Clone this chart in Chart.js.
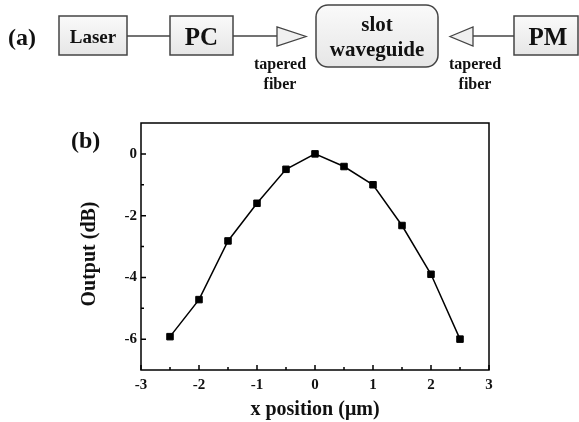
<!DOCTYPE html>
<html>
<head>
<meta charset="utf-8">
<script src="https://cdn.jsdelivr.net/npm/chart.js@4/dist/chart.umd.min.js"></script>
<style>
  html, body { margin: 0; padding: 0; background: #fff; }
  #wrap { position: relative; width: 579px; height: 422px; overflow: hidden; }
  #chart { position: absolute; left: 0; top: 0; }
  #diagram { position: absolute; left: 0; top: 0; }
  #diagram text { font-family: "Liberation Serif", "Times New Roman", serif; font-weight: bold; fill: #111; }
</style>
</head>
<body>
<div id="wrap">
  <canvas id="chart" width="579" height="422"></canvas>
  <svg id="diagram" width="579" height="422">
    <defs>
      <linearGradient id="boxFill" x1="0" y1="0" x2="0" y2="1">
        <stop offset="0" stop-color="#fafafa"/>
        <stop offset="1" stop-color="#e6e6e6"/>
      </linearGradient>
    </defs>
    <text x="8" y="37" font-size="24" dominant-baseline="central">(a)</text>

    <rect x="59" y="16" width="68" height="39" fill="url(#boxFill)" stroke="#444" stroke-width="1.5"/>
    <text x="93" y="36" font-size="19" text-anchor="middle" dominant-baseline="central">Laser</text>
    <line x1="127" y1="36" x2="170" y2="36" stroke="#444" stroke-width="1.5"/>

    <rect x="170" y="16" width="63" height="39" fill="url(#boxFill)" stroke="#444" stroke-width="1.5"/>
    <text x="201.5" y="36" font-size="25" text-anchor="middle" dominant-baseline="central">PC</text>
    <line x1="233" y1="36" x2="277" y2="36" stroke="#444" stroke-width="1.5"/>
    <polygon points="277,27 277,46 306,36.5" fill="#f0f0f0" stroke="#444" stroke-width="1.3"/>

    <rect x="316" y="5" width="122" height="62" rx="12" ry="12" fill="url(#boxFill)" stroke="#444" stroke-width="1.5"/>
    <text x="377" y="24" font-size="21" text-anchor="middle" dominant-baseline="central">slot</text>
    <text x="377" y="49" font-size="21" text-anchor="middle" dominant-baseline="central">waveguide</text>

    <polygon points="450,36.5 473,27 473,46" fill="#f0f0f0" stroke="#444" stroke-width="1.3"/>
    <line x1="473" y1="36" x2="514" y2="36" stroke="#444" stroke-width="1.5"/>
    <rect x="514" y="16" width="64" height="39" fill="url(#boxFill)" stroke="#444" stroke-width="1.5"/>
    <text x="548" y="36" font-size="25" text-anchor="middle" dominant-baseline="central">PM</text>

    <text x="280" y="63" font-size="16" text-anchor="middle" dominant-baseline="central">tapered</text>
    <text x="280" y="83" font-size="16" text-anchor="middle" dominant-baseline="central">fiber</text>
    <text x="475" y="63" font-size="16" text-anchor="middle" dominant-baseline="central">tapered</text>
    <text x="475" y="83" font-size="16" text-anchor="middle" dominant-baseline="central">fiber</text>

    <text x="71" y="140" font-size="24" dominant-baseline="central">(b)</text>
  </svg>
</div>
<script>
// measured output vs. fiber x position
var xPos = [-2.5, -2, -1.5, -1, -0.5, 0, 0.5, 1, 1.5, 2, 2.5];
var outputDb = [-5.92, -4.72, -2.82, -1.6, -0.5, 0, -0.41, -1.0, -2.32, -3.9, -6.0];

var xTicks = [-3, -2, -1, 0, 1, 2, 3];
var xMinor = [-2.5, -1.5, -0.5, 0.5, 1.5, 2.5];
var yTicks = [-6, -4, -2, 0];
var yMinor = [-5, -3, -1];

var serif = "'Liberation Serif', 'Times New Roman', serif";

// box around the plot + ticks pointing inward
var frameTicks = {
    id: 'frameTicks',
    afterDraw: function(chart) {
        var ctx = chart.ctx;
        var a = chart.chartArea;
        var xs = chart.scales.x, ys = chart.scales.y;
        ctx.save();
        ctx.strokeStyle = '#000';
        ctx.lineWidth = 1.5;
        ctx.strokeRect(a.left, a.top, a.right - a.left, a.bottom - a.top);
        ctx.beginPath();
        xs.ticks.forEach(function(t) {
            var px = xs.getPixelForValue(t.value);
            ctx.moveTo(px, a.bottom); ctx.lineTo(px, a.bottom - 5);
        });
        xMinor.forEach(function(v) {
            var px = xs.getPixelForValue(v);
            ctx.moveTo(px, a.bottom); ctx.lineTo(px, a.bottom - 3);
        });
        ys.ticks.forEach(function(t) {
            var py = ys.getPixelForValue(t.value);
            ctx.moveTo(a.left, py); ctx.lineTo(a.left + 5, py);
        });
        yMinor.forEach(function(v) {
            var py = ys.getPixelForValue(v);
            ctx.moveTo(a.left, py); ctx.lineTo(a.left + 3, py);
        });
        ctx.stroke();
        ctx.restore();
    }
};

var points = xPos.map(function(x, i) { return {x: x, y: outputDb[i]}; });

var chart = new Chart(document.getElementById('chart').getContext('2d'), {
    type: 'line',
    data: {
        datasets: [{
            data: points,
            borderColor: '#000',
            backgroundColor: '#000',
            borderWidth: 1.5,
            pointStyle: 'rect',
            pointRadius: 4.6,
            pointBorderWidth: 1,
            pointBorderColor: '#000',
            pointBackgroundColor: '#000',
            tension: 0,
            fill: false
        }]
    },
    options: {
        responsive: false,
        animation: false,
        layout: { padding: { left: 78, right: 90, top: 123, bottom: 0 } },
        plugins: { legend: { display: false }, tooltip: { enabled: false } },
        scales: {
            x: {
                type: 'linear',
                min: -3,
                max: 3,
                afterBuildTicks: function(s) { s.ticks = xTicks.map(function(v) { return {value: v}; }); },
                afterFit: function(s) { s.height = 52; },
                grid: { display: false, drawTicks: false },
                border: { display: false },
                ticks: {
                    padding: 6,
                    color: '#111',
                    font: { family: serif, size: 15, weight: 'bold' },
                    callback: function(v) { return String(v); }
                },
                title: {
                    display: true,
                    text: 'x position (\u03bcm)',
                    color: '#111',
                    padding: 0,
                    font: { family: serif, size: 20, weight: 'bold' }
                }
            },
            y: {
                min: -7,
                max: 1,
                afterBuildTicks: function(s) { s.ticks = yTicks.map(function(v) { return {value: v}; }); },
                afterFit: function(s) { s.width = 63; },
                grid: { display: false, drawTicks: false },
                border: { display: false },
                ticks: {
                    padding: 4,
                    color: '#111',
                    font: { family: serif, size: 15, weight: 'bold' },
                    callback: function(v) { return String(v); }
                },
                title: {
                    display: true,
                    // trailing spaces nudge the rotated title down a little
                    text: 'Output (dB)   ',
                    color: '#111',
                    padding: 0,
                    font: { family: serif, size: 20, weight: 'bold' }
                }
            }
        }
    },
    plugins: [frameTicks]
});
</script>
</body>
</html>
